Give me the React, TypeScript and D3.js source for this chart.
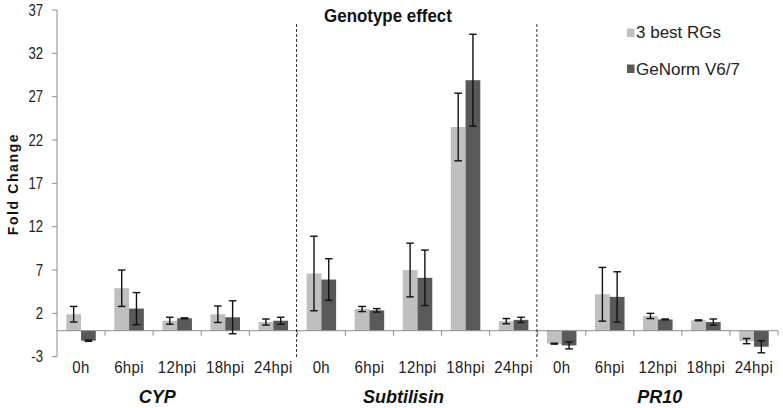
import React from "react";
import * as d3 from "d3";

const genes = ["CYP", "Subtilisin", "PR10"];
const times = ["0h", "6hpi", "12hpi", "18hpi", "24hpi"];
const seriesNames = ["3 best RGs", "GeNorm V6/7"];
const seriesColors = ["#bfbfbf", "#595959"];
const best3 = [1.9, 4.9, 1.15, 1.9, 1.0, 6.6, 2.5, 7.0, 23.5, 1.1, -1.5, 4.2, 1.7, 1.2, -1.2];
const best3Err = [0.9, 2.1, 0.4, 0.95, 0.35, 4.3, 0.3, 3.1, 3.9, 0.3, 0.05, 3.1, 0.3, 0.05, 0.3];
const genorm = [-1.15, 2.55, 1.43, 1.55, 1.15, 5.9, 2.35, 6.1, 28.9, 1.25, -1.7, 3.9, 1.3, 1.0, -1.85];
const genormErr = [0.08, 1.85, 0.05, 1.9, 0.4, 2.4, 0.2, 3.2, 5.3, 0.3, 0.4, 2.9, 0.05, 0.35, 0.7];
const yTicks = [-3, 2, 7, 12, 17, 22, 27, 32, 37];
const geneLabelShift = [-20, -14, 2];

const W = 783;
const H = 408;
const FONT = "'Liberation Sans', Arial, sans-serif";

export default function App() {
  const keys = genes.flatMap((g) => times.map((t) => `${g}|${t}`));
  const x = d3.scaleBand<string>().domain(keys).range([57, 778]).paddingInner(0.386).paddingOuter(0.193);
  const sub = d3.scaleBand<number>().domain([0, 1]).range([0, x.bandwidth()]);
  const y = d3.scaleLinear().domain([-3, 37]).range([356.7, 10]);
  const step = x.step();
  const x0 = 57;
  const values = [best3, genorm];
  const errs = [best3Err, genormErr];

  return (
    <svg width={W} height={H} style={{ position: "absolute", left: 0, top: 0, background: "#fff" }} fontFamily={FONT}>
      {/* y axis */}
      <line x1={x0} x2={x0} y1={y(37)} y2={y(-3)} stroke="#8c8c8c" strokeWidth={1} />
      {yTicks.map((t) => (
        <g key={t}>
          <line x1={x0 - 5} x2={x0} y1={y(t)} y2={y(t)} stroke="#8c8c8c" />
          <text
            transform={`translate(43,${y(t) + 5.5}) scale(0.82,1)`}
            textAnchor="end"
            fontSize={16}
            fill="#222"
          >
            {t}
          </text>
        </g>
      ))}
      {/* bars */}
      {values.map((vals, s) =>
        vals.map((v, i) => {
          const bx = (x(keys[i]) as number) + (sub(s) as number);
          const bw = sub.bandwidth();
          return (
            <rect
              key={`b${s}-${i}`}
              x={bx}
              width={bw}
              y={Math.min(y(v), y(0))}
              height={Math.abs(y(v) - y(0))}
              fill={seriesColors[s]}
            />
          );
        })
      )}
      {/* zero axis */}
      <line x1={x0} x2={778} y1={y(0)} y2={y(0)} stroke="#8c8c8c" />
      {keys.map((k, i) => (
        <line key={`t${i}`} x1={x0 + step * (i + 1)} x2={x0 + step * (i + 1)} y1={y(0)} y2={y(0) + 5} stroke="#8c8c8c" />
      ))}
      {/* error bars */}
      {values.map((vals, s) =>
        vals.map((v, i) => {
          const cx = (x(keys[i]) as number) + (sub(s) as number) + sub.bandwidth() / 2;
          const e = errs[s][i];
          const hi = y(v + e);
          const lo = y(v - e);
          return (
            <g key={`e${s}-${i}`} stroke="#111" strokeWidth={1.4}>
              <line x1={cx} x2={cx} y1={hi} y2={lo} />
              <line x1={cx - 3.8} x2={cx + 3.8} y1={hi} y2={hi} />
              <line x1={cx - 3.8} x2={cx + 3.8} y1={lo} y2={lo} />
            </g>
          );
        })
      )}
      {/* dashed separators */}
      {[5, 10].map((b) => (
        <line
          key={`d${b}`}
          x1={x0 + step * b - 0.8}
          x2={x0 + step * b - 0.8}
          y1={24}
          y2={357}
          stroke="#333"
          strokeWidth={1}
          strokeDasharray="3,2"
        />
      ))}
      {/* x tick labels */}
      {keys.map((k, i) => (
        <text
          key={`l${i}`}
          transform={`translate(${(x(k) as number) + x.bandwidth() / 2},373) scale(1,1.05)`}
          textAnchor="middle"
          fontSize={15}
          letterSpacing={0.4}
          fill="#222"
        >
          {k.split("|")[1]}
        </text>
      ))}
      {/* gene labels */}
      {genes.map((g, gi) => (
        <text
          key={g}
          x={x0 + step * (gi * 5 + 2.5) + geneLabelShift[gi]}
          y={403}
          textAnchor="middle"
          fontSize={18}
          fontWeight="bold"
          fontStyle="italic"
          fill="#111"
        >
          {g}
        </text>
      ))}
      {/* title */}
      <text
        transform="translate(388,22) scale(0.94,1)"
        textAnchor="middle"
        fontSize={18}
        fontWeight="bold"
        fill="#111"
      >
        Genotype effect
      </text>
      {/* y axis title */}
      <text
        transform={`translate(18,184) rotate(-90)`}
        textAnchor="middle"
        fontSize={14}
        fontWeight="bold"
        letterSpacing={1.6}
        fill="#111"
      >
        Fold Change
      </text>
      {/* legend */}
      {seriesNames.map((n, s) => (
        <g key={n}>
          <rect x={627} y={28.5 + s * 36} width={7.5} height={8.5} fill={seriesColors[s]} />
          <text x={636} y={37.5 + s * 37} fontSize={17} fill="#222">
            {n}
          </text>
        </g>
      ))}
    </svg>
  );
}
